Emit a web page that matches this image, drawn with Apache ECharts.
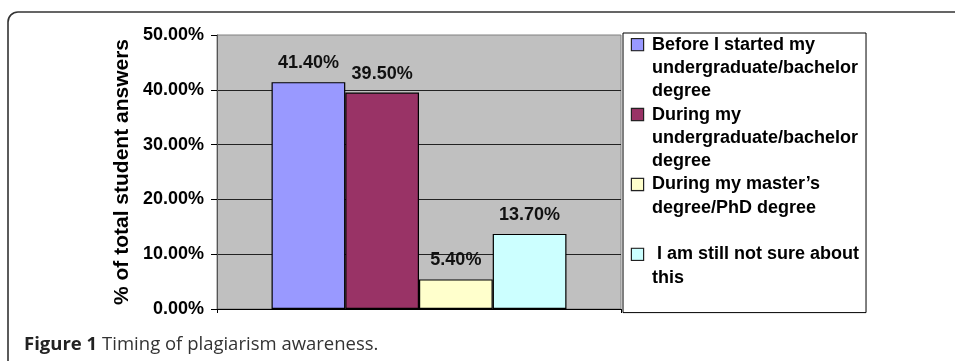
<!DOCTYPE html>
<html>
<head>
<meta charset="utf-8">
<script src="https://cdn.jsdelivr.net/npm/echarts@6/dist/echarts.min.js"></script>
<style>
html,body{margin:0;padding:0;background:#fff;}
#chart{width:955px;height:361px;}
</style>
</head>
<body>
<div id="chart"></div>
<script>
// ---- data ----
const categories = [''];
const seriesNames = [
  'Before I started my undergraduate/bachelor degree',
  'During my undergraduate/bachelor degree',
  'During my master\u2019s degree/PhD degree',
  ' I am still not sure about this'
];
const legendLines = [
  ['Before I started my', 'undergraduate/bachelor', 'degree'],
  ['During my', 'undergraduate/bachelor', 'degree'],
  ['During my master\u2019s', 'degree/PhD degree', ''],
  [' I am still not sure about', 'this', '']
];
const values = [41.4, 39.5, 5.4, 13.7];
const colors = ['#9999ff', '#993366', '#ffffcc', '#ccffff'];
const yMin = 0, yMax = 50, yInterval = 10;
const yAxisName = '% of total student answers';
const captionBold = 'Figure 1';
const captionText = 'Timing of plagiarism awareness.';

// ---- chart ----
const FONT = '"Liberation Sans", Arial, sans-serif';
const LH = 23.3;
const chart = echarts.init(document.getElementById('chart'), null, {renderer: 'canvas'});

const rich = {
  t: {fontFamily: FONT, fontWeight: 'bold', fontSize: 18, color: '#000', lineHeight: LH},
  sp: {width: 20, height: 11, lineHeight: LH},
  g: {width: 9, height: 11, lineHeight: LH}
};
colors.forEach((c, i) => {
  rich['b' + i] = {width: 11, height: 11, backgroundColor: c, borderColor: '#222', borderWidth: 1.2, lineHeight: LH};
});

const series = seriesNames.map((name, i) => ({
  name: name,
  type: 'bar',
  data: [values[i]],
  barGap: '0%',
  barCategoryGap: '27%',
  itemStyle: {color: colors[i], borderColor: '#000', borderWidth: 1.2},
  label: {
    show: true,
    position: 'top',
    distance: 10,
    fontFamily: FONT,
    fontWeight: 'bold',
    fontSize: 18,
    color: '#111',
    formatter: p => p.value.toFixed(2) + '%'
  }
}));

const option = {
  animation: false,
  backgroundColor: '#fff',
  title: {
    left: 24,
    top: 335,
    text: '{b|' + captionBold + '} {n|' + captionText + '}',
    textStyle: {
      rich: {
        b: {fontFamily: '"Open Sans", sans-serif', fontWeight: 'bold', fontSize: 18.5, color: '#222'},
        n: {fontFamily: '"Open Sans", sans-serif', fontWeight: 'normal', fontSize: 18.5, color: '#333'}
      }
    },
    padding: 0
  },
  grid: {
    left: 217, right: 334, top: 35, bottom: 52,
    show: true,
    backgroundColor: '#c0c0c0',
    borderColor: '#808080',
    borderWidth: 1,
    containLabel: false
  },
  legend: {
    orient: 'vertical',
    left: 623,
    top: 33,
    icon: 'none',
    itemWidth: 0,
    itemHeight: 0,
    itemGap: 0,
    padding: [0, 7, 0, 4],
    backgroundColor: '#fff',
    borderColor: '#000',
    borderWidth: 1,
    selectedMode: false,
    data: seriesNames,
    textStyle: {rich: rich, fontFamily: FONT, fontWeight: 'bold', fontSize: 18, color: '#000', lineHeight: LH},
    formatter: name => {
      const i = seriesNames.indexOf(name);
      return legendLines[i].map((ln, k) => {
        const head = k === 0 ? '{b' + i + '|}{g|}' : '{sp|}';
        return ln === '' ? head : head + '{t|' + ln + '}';
      }).join('\n');
    }
  },
  xAxis: {
    type: 'category',
    data: categories,
    axisLine: {show: true, lineStyle: {color: '#000', width: 1}},
    axisTick: {show: true, length: 4, lineStyle: {color: '#000'}},
    axisLabel: {show: false},
    splitLine: {show: false}
  },
  yAxis: {
    type: 'value',
    min: yMin, max: yMax, interval: yInterval,
    name: yAxisName,
    nameLocation: 'middle',
    nameGap: 84,
    nameRotate: 90,
    nameTextStyle: {fontFamily: FONT, fontWeight: 'bold', fontSize: 21, color: '#000'},
    axisLine: {show: true, lineStyle: {color: '#555', width: 1}},
    axisTick: {show: true, inside: false, length: 6, lineStyle: {color: '#000'}},
    axisLabel: {
      margin: 13,
      fontFamily: FONT, fontWeight: 'bold', fontSize: 18, color: '#000',
      formatter: v => v.toFixed(2) + '%'
    },
    splitLine: {show: true, showMaxLine: false, showMinLine: false, lineStyle: {color: '#222', width: 1}}
  },
  graphic: [{
    type: 'rect',
    silent: true,
    z: -1,
    shape: {x: 8, y: 12, width: 1100, height: 500, r: 10},
    style: {fill: 'none', stroke: '#333', lineWidth: 1.6}
  }],
  series: series
};
chart.setOption(option);
</script>
</body>
</html>
